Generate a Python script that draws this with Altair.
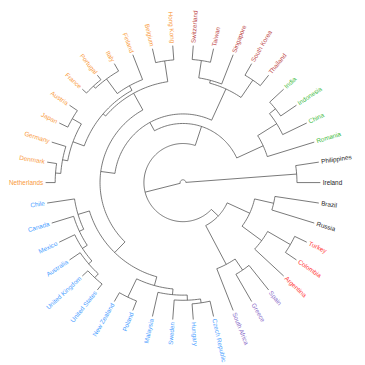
import math
import altair as alt
import pandas as pd

# Leaf order (clockwise), cluster group of each leaf
leaves = ["Brazil", "Russia", "Turkey", "Colombia", "Argentina", "Spain", "Greece", "South Africa",
          "Czech Republic", "Hungary", "Sweden", "Malaysia", "Poland", "New Zealand",
          "United States", "United Kingdom", "Australia", "Mexico", "Canada", "Chile",
          "Netherlands", "Denmark", "Germany", "Japan", "Austria", "France", "Portugal", "Italy",
          "Finland", "Belgium", "Hong Kong", "Switzerland", "Taiwan", "Singapore", "South Korea",
          "Thailand", "India", "Indonesia", "China", "Romania", "Philippines", "Ireland"]
leaf_group = ["k", "k", "r", "r", "r", "p", "p", "p",
              "b", "b", "b", "b", "b", "b", "b", "b", "b", "b", "b", "b",
              "o", "o", "o", "o", "o", "o", "o", "o", "o", "o", "o",
              "d", "d", "d", "d", "d", "g", "g", "g", "g", "k", "k"]
group_names = ["o", "d", "g", "k", "r", "p", "b"]
group_colors = ["#F99A3C", "#C04C4C", "#3EBB3E", "#222222", "#FF3535", "#8A6DC9", "#4AA0FF"]

# Merges: node, left child, right child, height
node_name = ["ND", "NDG", "JA", "NDGJA", "FP", "FPI", "FPIF", "L", "BH", "O",
             "HC", "HCS", "HCSM", "NZP", "B1", "UU", "UUA", "UUAM", "UUAMC", "B2", "B", "OB",
             "ST", "STS", "SKT", "DR", "N3", "II", "IIC", "G", "N1",
             "BR", "TC", "TCA", "RB", "SG", "PUR", "N2", "N0", "PI", "ROOT"]
node_left = ["Netherlands", "ND", "Japan", "NDG", "France", "FP", "FPI", "NDGJA", "Belgium", "L",
             "Czech Republic", "HC", "HCS", "Poland", "HCSM", "United States", "UU", "UUA", "UUAM", "UUAMC", "B1", "B",
             "Switzerland", "ST", "South Korea", "STS", "OB", "India", "II", "IIC", "N3",
             "Brazil", "Turkey", "TC", "BR", "Spain", "SG", "RB", "N2", "Philippines", "N0"]
node_right = ["Denmark", "Germany", "Austria", "JA", "Portugal", "Italy", "Finland", "FPIF", "Hong Kong", "BH",
              "Hungary", "Sweden", "Malaysia", "New Zealand", "NZP", "United Kingdom", "Australia", "Mexico", "Canada", "Chile", "B2", "O",
              "Taiwan", "Singapore", "Thailand", "SKT", "DR", "Indonesia", "China", "Romania", "G",
              "Russia", "Colombia", "Argentina", "TCA", "Greece", "South Africa", "PUR", "N1", "Ireland", "PI"]
node_height = [1.0, 1.55, 1.0, 2.1, 0.6, 0.9, 2.8, 3.35, 1.5, 3.7,
               1.65, 2.06, 2.6, 1.07, 3.2, 0.8, 1.35, 1.8, 2.4, 2.9, 4.15, 5.7,
               1.46, 3.3, 1.4, 3.6, 7.2, 2.0, 2.8, 5.15, 8.2,
               4.65, 1.4, 4.15, 6.7, 3.3, 4.7, 9.3, 10.3, 2.45, 14.1]

N = len(leaves)
R_LEAF = 140.5
R_SCALE = 9.76
R_LABEL = 143.0
START = 11 * 360.0 / N

pos = {name: i + 1.0 for i, name in enumerate(leaves)}
hgt = {name: 0.0 for name in leaves}
for n, l, r, h in zip(node_name, node_left, node_right, node_height):
    pos[n] = (pos[l] + pos[r]) / 2.0
    hgt[n] = h


def ang(p):
    return START + (p - 0.5) * 360.0 / N


def rad(h):
    return R_LEAF - R_SCALE * h


def xy(a, r):
    t = math.radians(a)
    return r * math.sin(t), r * math.cos(t)


rows = []
seg = 0
for n, l, r in zip(node_name, node_left, node_right):
    rn = rad(hgt[n])
    a1, a2 = ang(pos[l]), ang(pos[r])
    steps = max(2, int(abs(a2 - a1) / 1.5) + 2)
    for i in range(steps):
        a = a1 + (a2 - a1) * i / (steps - 1)
        x, y = xy(a, rn)
        rows.append({"seg": seg, "i": i, "x": x, "y": y})
    seg += 1
    for c in (l, r):
        ac = ang(pos[c])
        for i, rr in enumerate((rn, rad(hgt[c]))):
            x, y = xy(ac, rr)
            rows.append({"seg": seg, "i": i, "x": x, "y": y})
        seg += 1
lines = pd.DataFrame(rows)

lab = []
for i, (name, g) in enumerate(zip(leaves, leaf_group)):
    a = ang(i + 1.0) % 360
    x, y = xy(a, R_LABEL)
    right = a < 180
    ta = (a - 90) % 360 if right else (a - 270) % 360
    lab.append({"name": name, "grp": g, "x": x, "y": y, "ta": ta, "side": "R" if right else "L"})
labels = pd.DataFrame(lab)

xs = alt.Scale(domain=[-179, 178])
ys = alt.Scale(domain=[-182.5, 174.5])

tree = alt.Chart(lines).mark_line(color="#555555", strokeWidth=0.8).encode(
    x=alt.X("x:Q", scale=xs, axis=None),
    y=alt.Y("y:Q", scale=ys, axis=None),
    detail="seg:N",
    order="i:Q",
)

color = alt.Color("grp:N", scale=alt.Scale(domain=group_names, range=group_colors), legend=None)


def text_layer(side, align):
    return alt.Chart(labels).transform_filter(alt.datum.side == side).mark_text(
        align=align, baseline="middle", fontSize=6.5, font="Liberation Sans"
    ).encode(
        x=alt.X("x:Q", scale=xs, axis=None),
        y=alt.Y("y:Q", scale=ys, axis=None),
        angle=alt.Angle("ta:Q", scale=None),
        text="name:N",
        color=color,
    )


chart = alt.layer(tree, text_layer("R", "left"), text_layer("L", "right")).properties(
    width=357, height=357, padding=0, autosize=alt.AutoSizeParams(type="none")
).configure_view(stroke=None)

chart.save("out.html", embed_options={"renderer": "svg", "actions": False})
